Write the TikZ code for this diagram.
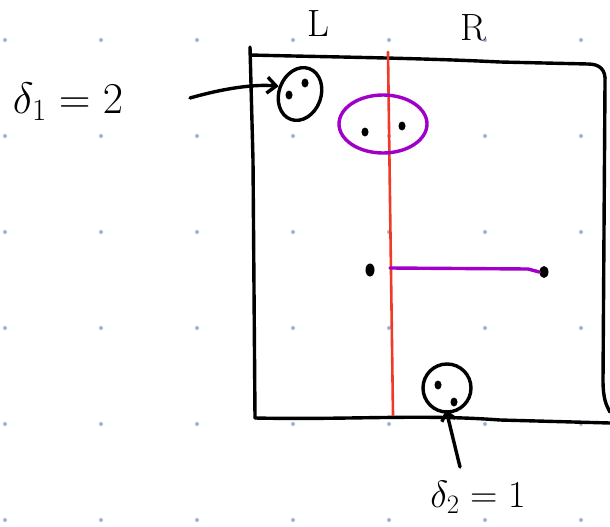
\RequirePackage{fix-cm}
\documentclass[tikz,border=0pt]{standalone}
\usepackage{amsmath}
\usepackage{tikz}
\usetikzlibrary{arrows.meta}
\usetikzlibrary{shapes.geometric}
\usepackage{xcolor}
\definecolor{dotgrid}{RGB}{160,178,215}
\definecolor{cutred}{RGB}{238,58,38}
\definecolor{pairpur}{RGB}{160,0,200}

\begin{document}
\begin{tikzpicture}[x=1pt,y=-1pt,line cap=round,line join=round]
\tikzstyle{every node}=[inner sep=0pt]
\tikzstyle{ink}=[line width=3.4pt]
\tikzstyle{pnt}=[ellipse,fill=black,minimum width=7pt,minimum height=9pt]
\tikzstyle{hand}=[font=\fontsize{38}{44}\selectfont]
\useasboundingbox (0,0) rectangle (610,527);
\foreach \gx in {5,101,...,581}
  \foreach \gy in {40,136,...,520}
    \fill[dotgrid] (\gx,\gy) circle (2);
% box and the cut
\draw[ink] (250,47) -- (253,160) -- (255,418);
\draw[ink] (250,55) .. controls (330,57) and (420,58) .. (500,62) -- (588,64) .. controls (600,64) and (606,70) .. (605,82) -- (603,380) .. controls (603,398) and (606,405) .. (610,412);
\draw[ink] (255,418) .. controls (350,420) and (420,414) .. (500,420) -- (610,423);
\draw[cutred,line width=2.6pt] (388,52) -- (390,200) -- (393,415);
\node[hand] (l) at (318,24) {L};
\node[hand] (r) at (473,28) {R};
% groups
\node[ink,draw,ellipse,minimum width=42pt,minimum height=54pt,rotate=-20] (e1) at (300,94) {};
\node[pnt] (p1) at (289,95) {};
\node[pnt] (p2) at (305,83) {};
\node[ink,draw=pairpur,ellipse,minimum width=88pt,minimum height=58pt] (e3) at (383,124) {};
\node[pnt] (p3) at (365,132) {};
\node[pnt] (p4) at (402,126) {};
\node[pnt,minimum width=9pt,minimum height=13pt] (p5) at (370,270) {};
\node[pnt,minimum width=9pt,minimum height=12pt] (p6) at (544,272) {};
\coordinate (cut) at (390,268);
\draw[ink,pairpur] (cut) -- (528,269) -- (p6.west);
\node[ink,draw,circle,minimum size=48pt] (e2) at (447,388) {};
\node[pnt] (p7) at (438,385) {};
\node[pnt] (p8) at (454,402) {};
% labels
\node[hand,font=\fontsize{44}{50}\selectfont] (d1) at (68,102) {$\delta_1 = 2$};
\node[hand] (d2) at (478,497) {$\delta_2 = 1$};
\coordinate (t1) at (190,98);
\coordinate (t2) at (460,467);
\draw[ink,-{Straight Barb[length=9pt,width=16pt]}] (t1) .. controls (225,88) and (255,84) .. (e1.west);
\draw[ink,-{Straight Barb[length=8pt,width=14pt]},shorten >=-4pt] (t2) -- (e2.south);
\end{tikzpicture}
\end{document}
